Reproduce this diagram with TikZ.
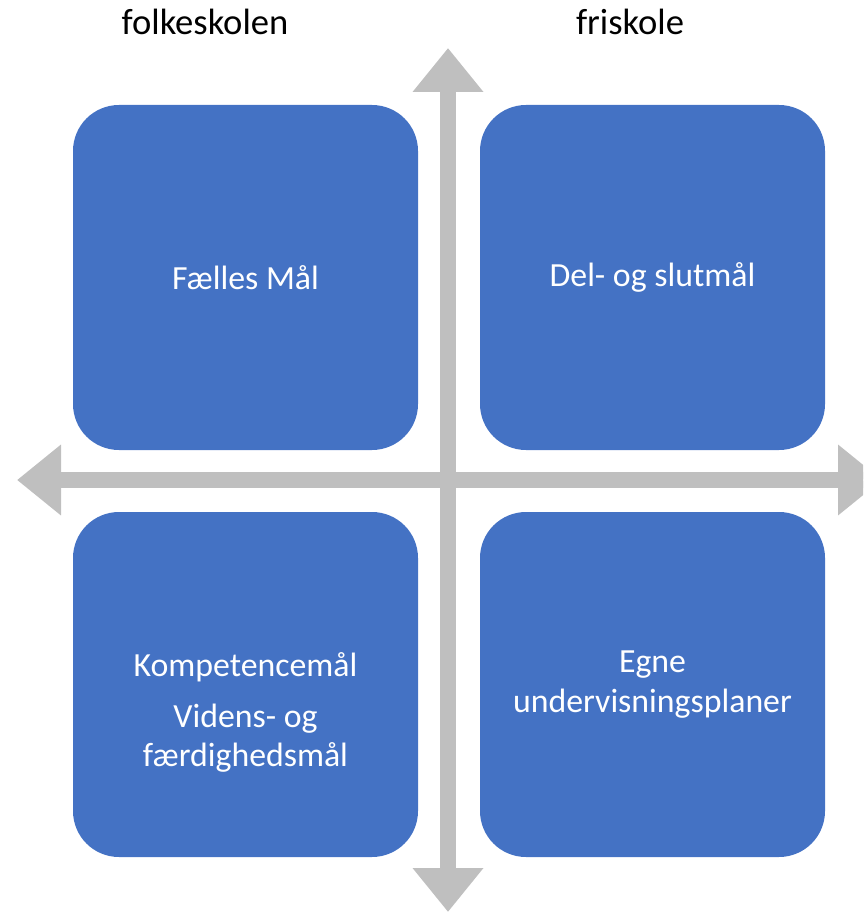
\documentclass[tikz,border=0pt]{standalone}
\usepackage{fontspec}
\setmainfont{Carlito}
\definecolor{boxblue}{HTML}{4472C4}
\definecolor{arrowgray}{HTML}{BFBFBF}
\tikzset{
  quad/.style={fill=boxblue, rounded corners=46pt, minimum width=345pt, minimum height=345pt, inner sep=0pt, text=white, align=center, font=\fontsize{33.8}{40}\selectfont},
  boxtext/.style={text=white, align=center, inner sep=0pt, font=\fontsize{33.8}{39}\selectfont},
  head/.style={font=\fontsize{36.6}{43}\selectfont, text=black},
  axis/.style={draw=arrowgray, line width=16pt, -{Triangle[width=68pt,length=44pt]}},
}
\usetikzlibrary{arrows.meta}
\begin{document}
\begin{tikzpicture}[x=1pt,y=-1pt]
\useasboundingbox (0,0) rectangle (863,912);
\clip (0,0) rectangle (863,912);
\coordinate (c) at (448,480);
\coordinate (up) at (448,48);
\coordinate (down) at (448,912);
\coordinate (left) at (17,480);
\coordinate (right) at (882,480);
\draw[axis] (c) -- (up);
\draw[axis] (c) -- (down);
\draw[axis] (c) -- (left);
\draw[axis] (c) -- (right);
\node[quad] (tl) at (245.5,277.5) {Fælles Mål};
\node[quad] (tr) at (652.5,277.5) {Del- og slutmål};
\node[quad] (bl) at (245.5,684.5) {};
\node[boxtext] (bltext) at ([yshift=-28pt]bl.center) {Kompetencemål\\[12pt]Videns- og\\færdighedsmål};
\node[quad] (br) at (652.5,684.5) {Egne\\undervisningsplaner};
\node[head] (fk) at (205,22) {folkeskolen};
\node[head] (fs) at (630,22) {friskole};
\end{tikzpicture}
\end{document}
